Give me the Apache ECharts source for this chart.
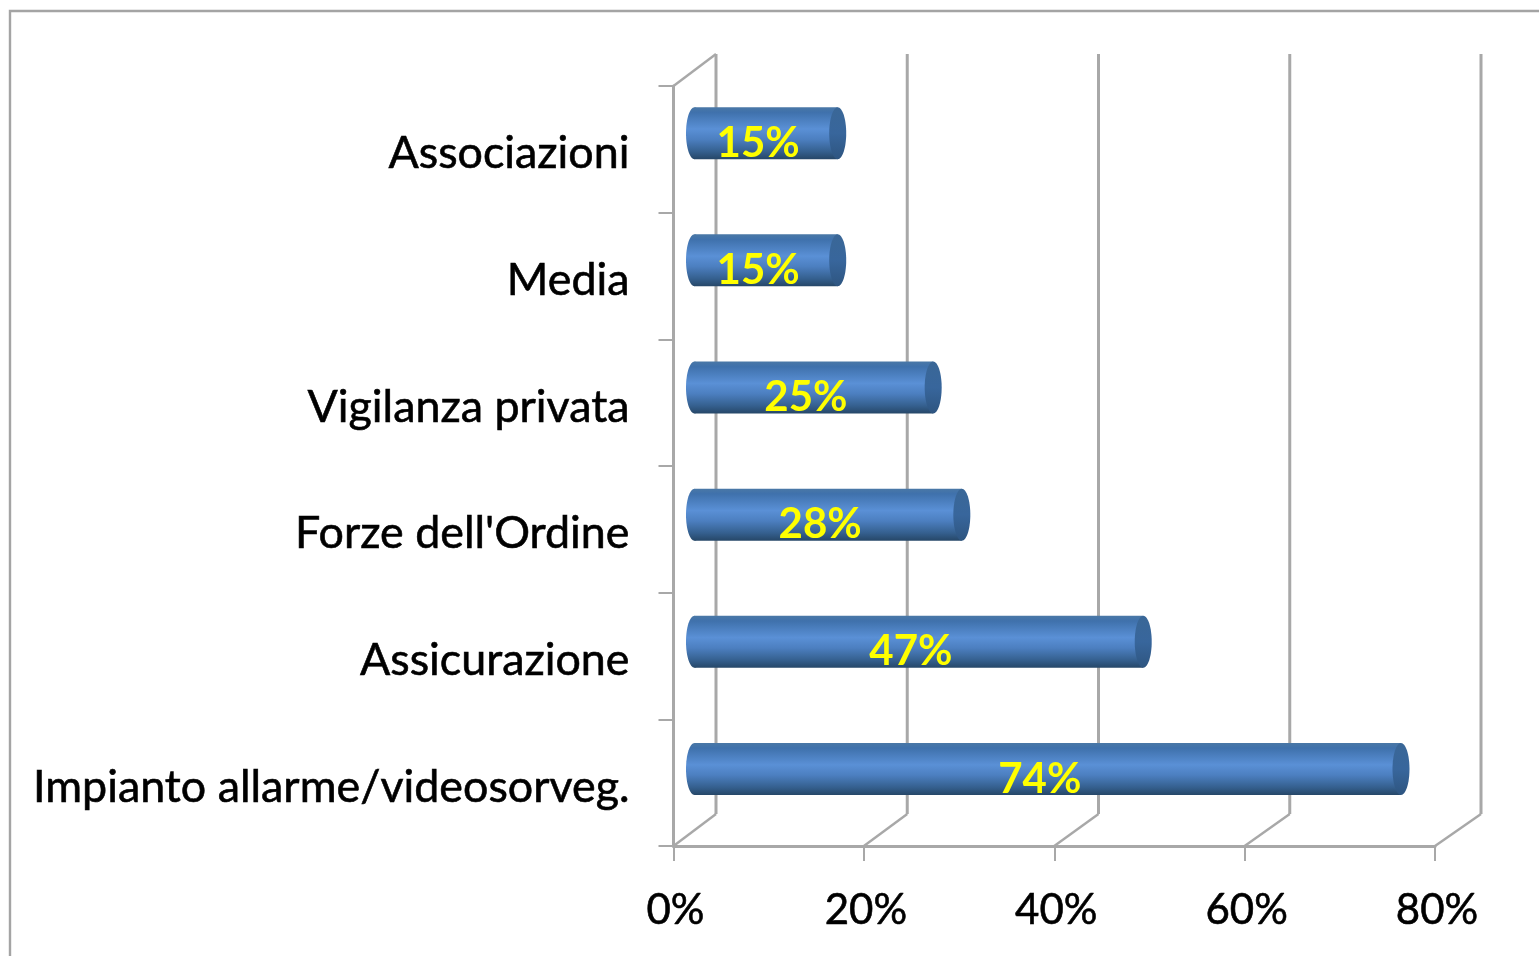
<!DOCTYPE html>
<html>
<head>
<meta charset="utf-8">
<style>html,body{margin:0;padding:0;background:#fff}#c{width:1539px;height:956px}</style>
<script src="https://cdn.jsdelivr.net/npm/echarts@6/dist/echarts.min.js"></script>
</head>
<body>
<div id="c"></div>
<script>
const categories = ["Impianto allarme/videosorveg.", "Assicurazione", "Forze dell'Ordine", "Vigilanza privata", "Media", "Associazioni"];
const values = [74, 47, 28, 25, 15, 15];
const wallTicks = [0, 20, 40, 60, 80];

const FONT = 'Lato, "Open Sans", sans-serif';
const GREY = '#a8a8a8';
const DEPTH_X = 42.5, DEPTH_Y = -32, BACK_SCALE = 1.0046;
const BAR_DX = 21, BAR_DY = -15, BAR_H = 52, CAP_RX = 8.5, BAR_SCALE_X = 1.003, BAR_SCALE_Y = 1.004, MID_Y = 450;

const chart = echarts.init(document.getElementById('c'), null, {renderer: 'canvas'});

const bodyFill = {type: 'linear', x: 0, y: 0, x2: 0, y2: 1, colorStops: [
  {offset: 0, color: '#4a78a6'},
  {offset: 0.1, color: '#3f71ac'},
  {offset: 0.42, color: '#5a90d6'},
  {offset: 0.62, color: '#4c7fc0'},
  {offset: 0.85, color: '#35608f'},
  {offset: 1, color: '#264768'}
]};
const capFill = {type: 'linear', x: 0, y: 0, x2: 0, y2: 1, colorStops: [
  {offset: 0, color: '#3a6797'},
  {offset: 0.5, color: '#38669c'},
  {offset: 1, color: '#2e5580'}
]};

function renderWall(params, api) {
  const v = api.value(0);
  const origin = api.coord([0, 0]);
  const bottom = api.coord([v, 0]);
  const base = params.coordSys;
  const x = bottom[0];
  const xb = origin[0] + DEPTH_X + (x - origin[0]) * BACK_SCALE;
  const yb = base.y + base.height;
  const yt = base.y;
  const children = [
    {type: 'line', shape: {x1: xb, y1: yt + DEPTH_Y, x2: xb, y2: yb + DEPTH_Y},
     style: {stroke: GREY, lineWidth: 3}},
    {type: 'line', shape: {x1: x, y1: yb, x2: xb, y2: yb + DEPTH_Y},
     style: {stroke: GREY, lineWidth: 2.4}}
  ];
  if (v === 0) {
    children.push({type: 'line', shape: {x1: x, y1: yt, x2: xb, y2: yt + DEPTH_Y},
      style: {stroke: GREY, lineWidth: 2.4}});
  }
  return {type: 'group', children};
}

function renderBar(params, api) {
  const v = api.value(0);
  const start = api.coord([0, api.value(1)]);
  const end = api.coord([v, api.value(1)]);
  const x0 = start[0] + BAR_DX;
  const x1 = x0 + (end[0] - start[0]) * BAR_SCALE_X;
  const cy = MID_Y + (start[1] - MID_Y) * BAR_SCALE_Y + BAR_DY;
  const top = cy - BAR_H / 2;
  return {type: 'group', children: [
    {type: 'ellipse', shape: {cx: x0, cy, rx: CAP_RX, ry: BAR_H / 2}, style: {fill: bodyFill}},
    {type: 'rect', shape: {x: x0, y: top, width: x1 - x0, height: BAR_H}, style: {fill: bodyFill}},
    {type: 'ellipse', shape: {cx: x1, cy, rx: CAP_RX, ry: BAR_H / 2}, style: {fill: capFill}},
    {type: 'text', x: (x0 + x1) / 2 - 8, y: cy + 10,
     style: {text: v + '%', fill: '#ffff00', font: 'bold 42px ' + FONT, align: 'center', verticalAlign: 'middle'}}
  ]};
}

chart.setOption({
  animation: false,
  backgroundColor: '#fff',
  graphic: [{type: 'rect', shape: {x: 10, y: 11, width: 1700, height: 1100},
    style: {fill: 'none', stroke: '#a4a4a4', lineWidth: 2.4}, z: -1, silent: true}],
  grid: {left: 673.5, right: 104, top: 86, bottom: 110, containLabel: false},
  xAxis: {
    type: 'value', min: 0, max: 80, interval: 20,
    splitLine: {show: false},
    axisLine: {show: true, lineStyle: {color: GREY, width: 3}},
    axisTick: {show: true, length: 15, lineStyle: {color: GREY, width: 2}},
    axisLabel: {formatter: v => '{t|' + v + '%}', margin: 43,
      rich: {t: {fontFamily: FONT, fontSize: 42, color: '#000', padding: [0, 0, 0, 4],
                 textBorderColor: '#000', textBorderWidth: 0.6}}}
  },
  yAxis: {
    type: 'category', data: categories, boundaryGap: true,
    axisLine: {show: true, onZero: false, lineStyle: {color: GREY, width: 3}},
    axisTick: {show: true, length: 15, lineStyle: {color: GREY, width: 2}},
    axisLabel: {formatter: v => '{t|' + v + '}', margin: 44,
      rich: {t: {fontFamily: FONT, fontSize: 44.8, color: '#000', padding: [9, 0, 0, 0],
                 textBorderColor: '#000', textBorderWidth: 0.6}}}
  },
  series: [
    {type: 'custom', coordinateSystem: 'cartesian2d', data: wallTicks.map(v => [v, 0]),
     renderItem: renderWall, silent: true, clip: false, z: 1, encode: {x: 0, y: 1}},
    {type: 'custom', coordinateSystem: 'cartesian2d', data: values.map((v, i) => [v, i]),
     renderItem: renderBar, silent: true, clip: false, z: 3, encode: {x: 0, y: 1}}
  ]
});
</script>
</body>
</html>
